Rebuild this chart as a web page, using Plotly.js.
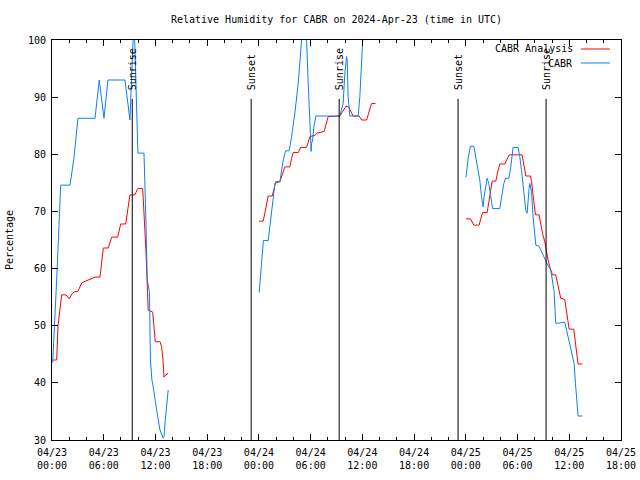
<!DOCTYPE html>
<html>
<head>
<meta charset="utf-8">
<script src="https://cdn.plot.ly/plotly-3.0.1.min.js"></script>
<style>html,body{margin:0;padding:0;background:#fff;}#chart{width:640px;height:480px;}</style>
</head>
<body>
<div id="chart"></div>
<script>
// Time in hours since 2024-04-23 00:00 UTC
const analysisT1 = [0.08,0.54,0.7,1.12,1.62,2.01,2.32,2.67,3.01,3.44,4.99,5.57,5.95,6.53,6.92,7.62,7.97,8.55,9.04,9.62,9.94,10.52,10.9,11.05,11.16,11.68,11.94,11.98,12.52,12.72,12.9,12.99,13.22,13.48];
const analysisV1 = [44,44,50,55.4,55.4,54.7,55.6,56,56,57.5,58.5,58.5,63.6,63.6,65.5,65.5,67.8,67.8,72.9,72.9,74,74,63,58,52.7,52.4,48.7,47.2,47.2,46.3,43.5,41,41.4,41.7];
const analysisT2 = [24.03,24.5,25.08,25.54,25.97,26.43,27.01,27.59,27.79,27.98,28.56,28.83,29.53,29.91,30.49,30.76,31.57,31.85,32.03,33.39,34.09,34.4,34.93,35.63,35.91,36.49,36.87,37.07,37.53];
const analysisV2 = [68.3,68.3,72.7,72.7,75.2,75.2,77.8,77.8,79.3,80.3,80.3,81.2,81.2,83.1,83.3,83.7,84,85.4,86.6,86.7,88.4,88.3,86.7,86.7,86,86,87.9,88.9,88.9];
const analysisT3 = [48.0,48.54,48.93,49.54,49.7,49.94,50.47,50.67,50.87,51.05,51.48,51.67,51.94,52.52,52.79,53.02,54.53,54.64,54.84,54.96,55.5,55.62,55.73,55.88,56.08,56.5,56.7,56.89,57.16,57.36,57.54,57.74,57.86,58.05,58.43,58.59,58.82,59.01,59.48,59.68,59.86,59.98,60.52,60.72,60.87,60.95,61.02,61.53];
const analysisV3 = [68.7,68.7,67.6,67.6,68.5,69.8,69.8,71.4,73.5,75.3,75.3,76.7,78.3,78.3,79.1,79.9,79.9,78.7,77.25,76.2,76.2,75.2,74,71.7,69.4,69.4,67.6,66.2,64.7,62.7,61.5,60.3,59.75,58.9,58.9,57.7,56.25,54.8,54.6,52.75,51.3,49.4,49.4,47.2,45.75,44.6,43.3,43.3];

const obsT1 = [0.08,0.3,0.54,1.01,2.09,2.55,3.01,4.99,5.48,6.03,6.49,8.46,9.04,9.51,9.97,10.55,10.67,10.9,11.05,11.3,11.42,11.59,11.74,12.14,12.32,12.52,12.9,12.99,13.14,13.3,13.48];
const obsV1 = [43.5,50,58,74.6,74.6,79.4,86.3,86.3,93,86.3,93,93,86,104,80.2,80.2,80.2,68,58,56,44,40.5,39.3,35.25,33.5,31.75,30.3,30.6,33.5,35.8,38.75];
const obsT2 = [24.03,24.5,24.52,25.08,25.47,25.86,26.43,26.82,27.1,27.51,27.79,28.17,28.56,28.87,29.16,29.45,29.53,29.72,29.91,30.06,30.11,30.23,30.38,30.61,33.39,33.77,33.97,34.17,34.24,34.35,34.55,35.51,35.71,35.98,36.17];
const obsV2 = [55.8,63.6,64.9,64.9,70.2,74.9,75.2,79,80.6,80.6,83.1,87.2,92.4,100,104,101.7,100,92.4,86,80.5,81.9,82.5,84.8,86.7,86.7,88.9,94.2,97.1,96.5,90.1,86.7,86.7,90.1,100,104];
const obsT3 = [48.0,48.08,48.27,48.54,48.93,49.24,49.43,49.62,49.82,50.01,50.12,50.32,50.47,50.67,50.78,50.98,51.1,51.94,52.14,52.41,52.6,52.99,53.22,53.48,54.06,54.26,54.46,54.64,54.84,54.96,55.11,55.22,55.34,55.42,55.54,55.62,55.8,56.0,56.12,56.5,56.78,57.04,57.28,57.54,57.86,58.12,58.24,58.32,58.43,59.48,59.68,59.86,60.06,60.26,60.44,60.56,60.72,60.84,60.95,61.02,61.53];
const obsV3 = [76,76.7,79.3,81.4,81.4,78.7,77.2,75.5,72.6,70.8,72.6,74.9,75.8,74.9,73.75,71.4,70.5,70.5,72.6,74.9,75.8,75.8,77.8,81.2,81.2,79.6,77.2,74.9,72.3,70.2,69.7,72.6,74,74.9,74.3,73.5,69.1,65.6,64.1,63.9,62.95,62.1,61.5,60.5,59.75,57.4,55.95,53.6,50.4,50.6,49.25,48.1,46.9,45.75,44.6,43.4,39.9,37.6,35.25,34.2,34.2];

const eventTimes = [9.31, 23.1, 33.31, 47.1, 57.31];
const eventLabels = ['Sunrise','Sunset','Sunrise','Sunset','Sunrise'];

const tickHours = [0,6,12,18,24,30,36,42,48,54,60,66];
const tickLabels = ['04/23<br>00:00','04/23<br>06:00','04/23<br>12:00','04/23<br>18:00','04/24<br>00:00','04/24<br>06:00','04/24<br>12:00','04/24<br>18:00','04/25<br>00:00','04/25<br>06:00','04/25<br>12:00','04/25<br>18:00'];
const yTicks = [30,40,50,60,70,80,90,100];

const seriesNames = ['CABR Analysis','CABR'];
const seriesColors = ['#ff0000','#0a80f5'];

function join(parts){ let out=[]; parts.forEach((p,i)=>{ if(i>0) out.push(null); out=out.concat(p);}); return out; }

const FONT = 'DejaVu Sans Mono, Liberation Mono, monospace';

const traces = [
  {x: join([analysisT1,analysisT2,analysisT3]), y: join([analysisV1,analysisV2,analysisV3]), mode:'lines', name: seriesNames[0], line:{color:seriesColors[0], width:1}, connectgaps:false, showlegend:false},
  {x: join([obsT1,obsT2,obsT3]), y: join([obsV1,obsV2,obsV3]), mode:'lines', name: seriesNames[1], line:{color:seriesColors[1], width:1}, connectgaps:false, showlegend:false}
];

const shapes = eventTimes.map(t => ({type:'line', xref:'x', yref:'y', x0:t, x1:t, y0:30, y1:89.7, line:{color:'#000', width:1}}));
const annotations = eventTimes.map((t,i) => ({x:t, y:90.9, xref:'x', yref:'y', text:eventLabels[i], textangle:-90, showarrow:false, xanchor:'center', yanchor:'bottom', font:{family:FONT, size:10, color:'#000'}}));

// gnuplot-style key: text then line sample
const keyRows = [0.9775, 0.9425];
seriesNames.forEach((n,i)=>{
  annotations.push({xref:'paper', yref:'paper', x:0.919, y:keyRows[i], text:n, showarrow:false, xanchor:'right', yanchor:'middle', font:{family:FONT, size:10, color:'#000'}});
  shapes.push({type:'line', xref:'paper', yref:'paper', x0:0.9297, x1:0.9807, y0:keyRows[i], y1:keyRows[i], line:{color:seriesColors[i], width:1}});
});

const layout = {
  width:640, height:480,
  margin:{l:52, r:19, t:40, b:40},
  paper_bgcolor:'#fff', plot_bgcolor:'#fff',
  font:{family:FONT, size:10, color:'#000'},
  title:{text:'Relative Humidity for CABR on 2024-Apr-23 (time in UTC)', x:0.5, xref:'paper', y:0.96, yref:'container', yanchor:'middle', font:{family:FONT, size:10}},
  showlegend:false,
  xaxis:{range:[0,66], tickmode:'array', tickvals:tickHours, ticktext:tickLabels, showgrid:false, zeroline:false, showline:true, linecolor:'#000', linewidth:1, mirror:'ticks', ticks:'inside', ticklen:6, tickcolor:'#000', ticklabelstandoff:3,
    minor:{dtick:2, tick0:0, ticks:'inside', ticklen:3, tickcolor:'#000', showgrid:false}, tickfont:{family:FONT, size:10}},
  yaxis:{range:[30,100], tickmode:'array', tickvals:yTicks, showgrid:false, zeroline:false, showline:true, linecolor:'#000', linewidth:1, mirror:'ticks', ticks:'inside', ticklen:6, tickcolor:'#000', ticklabelstandoff:3,
    title:{text:'Percentage', font:{family:FONT, size:10}, standoff:12}, tickfont:{family:FONT, size:10}},
  shapes: shapes,
  annotations: annotations
};

Plotly.newPlot('chart', traces, layout, {staticPlot:true, displayModeBar:false});
</script>
</body>
</html>
